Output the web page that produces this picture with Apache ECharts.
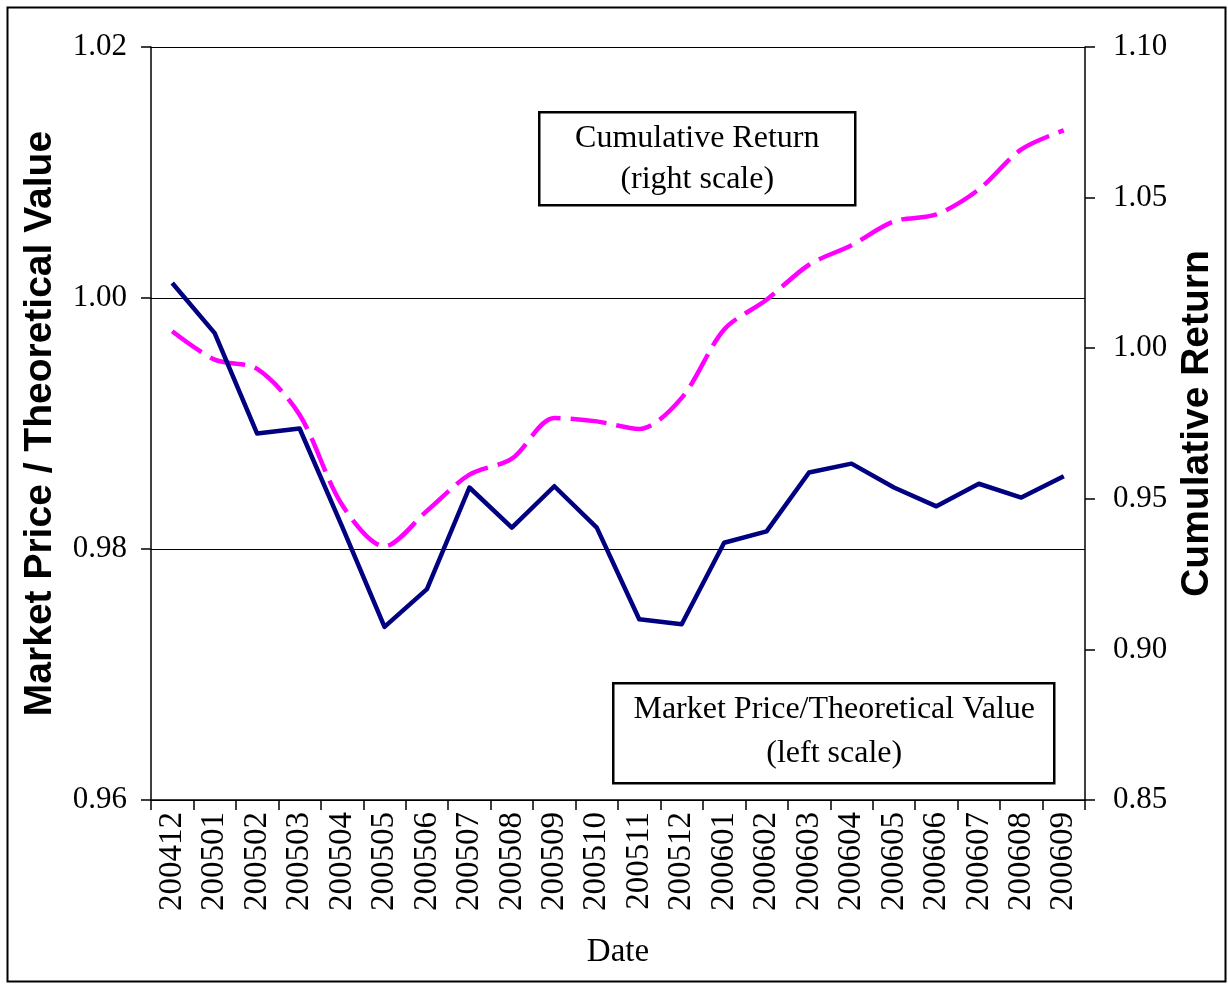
<!DOCTYPE html>
<html>
<head>
<meta charset="utf-8">
<title>Market Price / Theoretical Value vs Cumulative Return</title>
<script src="https://cdn.jsdelivr.net/npm/echarts@6/dist/echarts.min.js"></script>
<style>
  html, body { margin: 0; padding: 0; background: #fff; }
  #chart { width: 1228px; height: 984px; }
</style>
</head>
<body>
<div id="chart"></div>
<script>
// monthly dates (yyyymm)
const dates = ['200412', '200501', '200502', '200503', '200504', '200505', '200506', '200507',
  '200508', '200509', '200510', '200511', '200512', '200601', '200602', '200603', '200604',
  '200605', '200606', '200607', '200608', '200609']

// left scale: market price / theoretical value
const priceRatio = [1.0012, 0.9972, 0.9892, 0.9896, 0.9818, 0.9738, 0.9768, 0.9849,
  0.9817, 0.9850, 0.9817, 0.9744, 0.9740, 0.9805, 0.9814, 0.9861, 0.9868,
  0.9849, 0.9834, 0.9852, 0.9841, 0.9858]

// right scale: cumulative return
const cumReturn = [1.0056, 0.9962, 0.9931, 0.9779, 0.9480, 0.9342, 0.9460, 0.9580,
  0.9633, 0.9768, 0.9757, 0.9732, 0.9835, 1.0062, 1.0161, 1.0277, 1.0342,
  1.0421, 1.0444, 1.0527, 1.0660, 1.0723]

const leftTicks = { min: 0.96, max: 1.02, interval: 0.02 }
const rightTicks = { min: 0.85, max: 1.10, interval: 0.05 }

const serif = '"Liberation Serif", "Times New Roman", serif'
const sans = '"Liberation Sans", Arial, sans-serif'

const chart = echarts.init(document.getElementById('chart'))

const option = {
  backgroundColor: '#fff',
  animation: false,
  grid: {
    left: 151,
    right: 143,
    top: 47,
    bottom: 184,
    containLabel: false,
    outerBoundsMode: 'none'
  },
  xAxis: {
    type: 'category',
    data: dates,
    boundaryGap: true,
    name: 'Date',
    nameLocation: 'middle',
    nameGap: 136,
    nameTextStyle: { fontFamily: serif, fontSize: 33, color: '#000' },
    axisLine: { lineStyle: { color: '#000', width: 1.5 } },
    axisTick: { show: true, length: 10, lineStyle: { color: '#000', width: 1.5 } },
    axisLabel: {
      rotate: 90,
      interval: 0,
      margin: 12,
      fontFamily: serif,
      fontSize: 33,
      color: '#000'
    },
    splitLine: { show: false }
  },
  yAxis: [
    {
      type: 'value',
      position: 'left',
      min: leftTicks.min,
      max: leftTicks.max,
      interval: leftTicks.interval,
      name: 'Market Price / Theoretical Value',
      nameLocation: 'middle',
      nameRotate: 90,
      nameGap: 91,
      nameTextStyle: { fontFamily: sans, fontSize: 39, fontWeight: 'bold', color: '#000' },
      axisLine: { show: true, lineStyle: { color: '#000', width: 1.5 } },
      axisTick: { show: true, length: 10, lineStyle: { color: '#000', width: 1.5 } },
      axisLabel: {
        margin: 24,
        fontFamily: serif,
        fontSize: 31,
        color: '#000',
        formatter: v => v.toFixed(2)
      },
      splitLine: { show: true, lineStyle: { color: '#000', width: 1 } }
    },
    {
      type: 'value',
      position: 'right',
      min: rightTicks.min,
      max: rightTicks.max,
      interval: rightTicks.interval,
      name: 'Cumulative Return',
      nameLocation: 'middle',
      nameRotate: 90,
      nameGap: 91,
      nameTextStyle: { fontFamily: sans, fontSize: 39, fontWeight: 'bold', color: '#000' },
      axisLine: { show: true, lineStyle: { color: '#000', width: 1.5 } },
      axisTick: { show: true, length: 10, lineStyle: { color: '#000', width: 1.5 } },
      axisLabel: {
        margin: 28,
        fontFamily: serif,
        fontSize: 31,
        color: '#000',
        formatter: v => v.toFixed(2)
      },
      splitLine: { show: false }
    }
  ],
  series: [
    {
      name: 'Market Price/Theoretical Value',
      type: 'line',
      yAxisIndex: 0,
      data: priceRatio,
      showSymbol: false,
      lineStyle: { color: '#000080', width: 4.5, join: 'round' },
      itemStyle: { color: '#000080' },
      z: 3
    },
    {
      name: 'Cumulative Return',
      type: 'line',
      yAxisIndex: 1,
      data: cumReturn,
      smooth: 0.3,
      showSymbol: false,
      lineStyle: { color: '#ff00ff', width: 4.5, type: [36, 10] },
      itemStyle: { color: '#ff00ff' },
      z: 2
    }
  ],
  graphic: [
    {
      type: 'rect',
      left: 5,
      top: 5,
      shape: { width: 1218, height: 974 },
      style: { fill: 'none', stroke: '#000', lineWidth: 2 },
      silent: true
    },
    {
      type: 'group',
      left: 538,
      top: 111,
      children: [
        {
          type: 'rect',
          shape: { width: 316, height: 93 },
          style: { fill: '#fff', stroke: '#000', lineWidth: 2.5 }
        },
        {
          type: 'text',
          x: 158,
          y: 47,
          style: {
            text: 'Cumulative Return\n(right scale)',
            font: '32px ' + serif,
            fill: '#000',
            align: 'center',
            verticalAlign: 'middle',
            lineHeight: 41
          }
        }
      ]
    },
    {
      type: 'group',
      left: 612,
      top: 682,
      children: [
        {
          type: 'rect',
          shape: { width: 441, height: 100 },
          style: { fill: '#fff', stroke: '#000', lineWidth: 2.5 }
        },
        {
          type: 'text',
          x: 221,
          y: 48,
          style: {
            text: 'Market Price/Theoretical Value\n(left scale)',
            font: '32px ' + serif,
            fill: '#000',
            align: 'center',
            verticalAlign: 'middle',
            lineHeight: 44
          }
        }
      ]
    }
  ]
}

chart.setOption(option)
window.addEventListener('resize', () => chart.resize())
</script>
</body>
</html>
